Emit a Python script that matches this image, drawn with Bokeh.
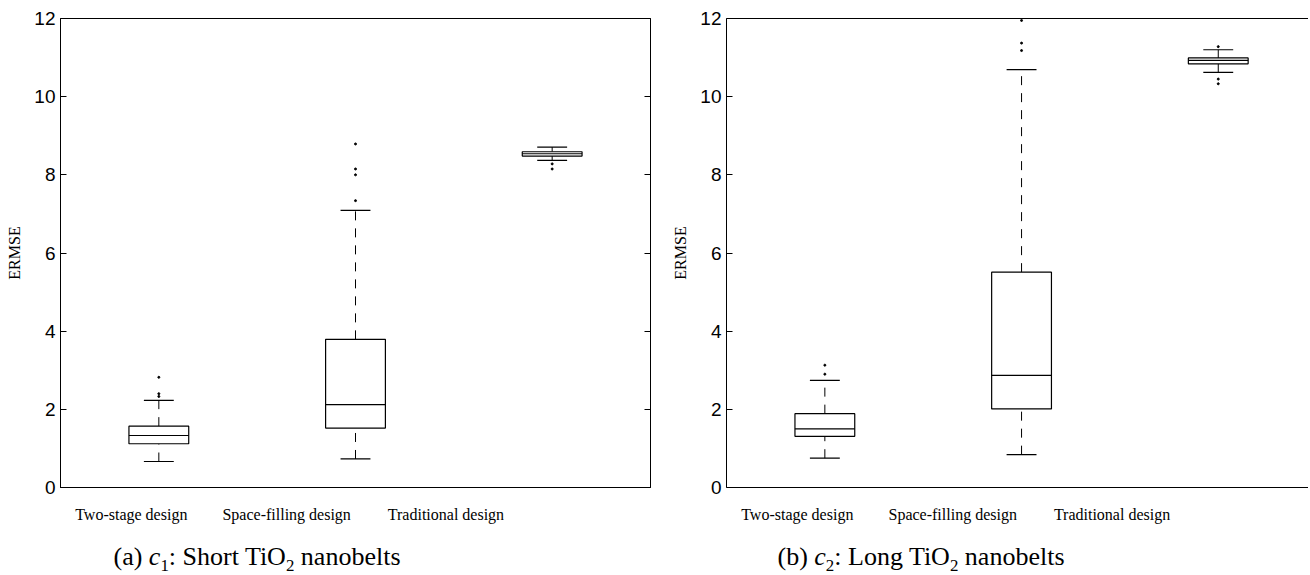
from bokeh.plotting import figure
from bokeh.models import Range1d, FixedTicker, LinearAxis, Div
from bokeh.layouts import row, column
from bokeh.embed import file_html
from bokeh.resources import INLINE

categories = ["Two-stage design", "Space-filling design", "Traditional design"]
positions = [1, 2, 3]
label_positions = [0.86, 1.65, 2.46]
y_ticks = [0, 2, 4, 6, 8, 10, 12]

# (a) c1: Short TiO2 nanobelts
c1_lower = [0.665, 0.73, 8.37]
c1_q1 = [1.12, 1.52, 8.48]
c1_med = [1.33, 2.12, 8.54]
c1_q3 = [1.57, 3.79, 8.59]
c1_upper = [2.23, 7.09, 8.71]
c1_out_x = [1, 1, 1, 2, 2, 2, 2, 3, 3]
c1_out_y = [2.82, 2.40, 2.33, 8.79, 8.15, 8.00, 7.34, 8.28, 8.15]

# (b) c2: Long TiO2 nanobelts
c2_lower = [0.75, 0.84, 10.62]
c2_q1 = [1.31, 2.01, 10.84]
c2_med = [1.50, 2.87, 10.93]
c2_q3 = [1.89, 5.51, 10.99]
c2_upper = [2.74, 10.69, 11.20]
c2_out_x = [1, 1, 2, 2, 2, 3, 3, 3]
c2_out_y = [3.13, 2.90, 11.95, 11.37, 11.18, 11.28, 10.45, 10.33]

BOX_HW = 0.152
CAP_HW = 0.076
SERIF = "Liberation Serif"


def make_panel(lower, q1, med, q3, upper, ox, oy, frame_w, bl, br, x_end, full_box):
    p = figure(frame_width=frame_w, frame_height=469, x_range=Range1d(0.5, x_end),
               y_range=Range1d(0, 12), output_backend="svg", toolbar_location=None,
               min_border_left=bl, min_border_right=br, min_border_top=18, min_border_bottom=45)
    p.grid.visible = False
    p.background_fill_color = "white"
    p.border_fill_color = "white"

    xs = positions
    # whiskers (dashed)
    p.segment(x0=xs, y0=q3, x1=xs, y1=upper, line_color="black", line_width=1, line_dash="9 8")
    p.segment(x0=xs, y0=lower, x1=xs, y1=q1, line_color="black", line_width=1, line_dash="9 8")
    # caps
    p.segment(x0=[x - CAP_HW for x in xs], y0=upper, x1=[x + CAP_HW for x in xs], y1=upper,
              line_color="black", line_width=1.2)
    p.segment(x0=[x - CAP_HW for x in xs], y0=lower, x1=[x + CAP_HW for x in xs], y1=lower,
              line_color="black", line_width=1.2)
    # boxes
    p.quad(left=[x - BOX_HW for x in xs], right=[x + BOX_HW for x in xs], bottom=q1, top=q3,
           fill_color="white", line_color="black", line_width=1.2)
    # medians
    p.segment(x0=[x - BOX_HW for x in xs], y0=med, x1=[x + BOX_HW for x in xs], y1=med,
              line_color="black", line_width=1.2)
    # outliers
    p.scatter(x=ox, y=oy, marker="circle", size=2, color="black")

    # y axis
    ya = p.yaxis[0]
    ya.ticker = FixedTicker(ticks=y_ticks)
    ya.major_tick_in = 6
    ya.major_tick_out = 0
    ya.minor_tick_line_color = None
    ya.axis_line_color = "black"
    ya.major_tick_line_color = "black"
    ya.major_label_text_font = "Liberation Sans"
    ya.major_label_text_font_size = "19px"
    ya.major_label_text_color = "black"
    ya.major_label_standoff = 5
    ya.axis_label = "ERMSE"
    ya.axis_label_text_font = SERIF
    ya.axis_label_text_font_style = "normal"
    ya.axis_label_text_font_size = "16px"
    ya.axis_label_text_color = "black"
    ya.axis_label_standoff = 8

    # x axis
    xa = p.xaxis[0]
    xa.ticker = FixedTicker(ticks=label_positions)
    xa.major_label_overrides = {lp: c for lp, c in zip(label_positions, categories)}
    xa.major_tick_line_color = None
    xa.minor_tick_line_color = None
    xa.axis_line_color = "black"
    xa.major_label_text_font = SERIF
    xa.major_label_text_font_size = "16px"
    xa.major_label_text_color = "black"
    xa.major_label_standoff = 12

    if full_box:
        p.outline_line_color = "black"
        p.outline_line_width = 1
        ra = LinearAxis(ticker=FixedTicker(ticks=y_ticks),
                        major_label_overrides={t: "" for t in y_ticks},
                        major_label_text_color=None,
                        major_tick_in=6, major_tick_out=0, minor_tick_line_color=None,
                        axis_line_color="black", major_label_standoff=0)
        p.add_layout(ra, "right")
    else:
        p.outline_line_color = None
        ta = LinearAxis(ticker=FixedTicker(ticks=[]), major_label_text_color=None,
                        major_tick_line_color=None, minor_tick_line_color=None,
                        axis_line_color="black", major_label_standoff=0)
        p.add_layout(ta, "above")
    return p


p1 = make_panel(c1_lower, c1_q1, c1_med, c1_q3, c1_upper, c1_out_x, c1_out_y,
                frame_w=590, bl=60, br=10, x_end=3.5, full_box=True)
p2 = make_panel(c2_lower, c2_q1, c2_med, c2_q3, c2_upper, c2_out_x, c2_out_y,
                frame_w=582, bl=66, br=0, x_end=0.5 + 582 / 196.7, full_box=False)

cap_style = {"font-family": SERIF, "font-size": "26px", "text-align": "center",
             "padding-top": "11px", "line-height": "1.1", "color": "black"}
d1 = Div(text='(a) <i>c</i><sub style="font-size:65%">1</sub>: Short TiO<sub style="font-size:65%">2</sub> nanobelts',
         width=514, height=42, styles=cap_style, margin=(0, 0, 0, 0))
d2 = Div(text='(b) <i>c</i><sub style="font-size:65%">2</sub>: Long TiO<sub style="font-size:65%">2</sub> nanobelts',
         width=522, height=42, styles=cap_style, margin=(0, 0, 0, 0))

layout = row(column(p1, d1), column(p2, d2))
open("out.html", "w").write(file_html(layout, INLINE))
